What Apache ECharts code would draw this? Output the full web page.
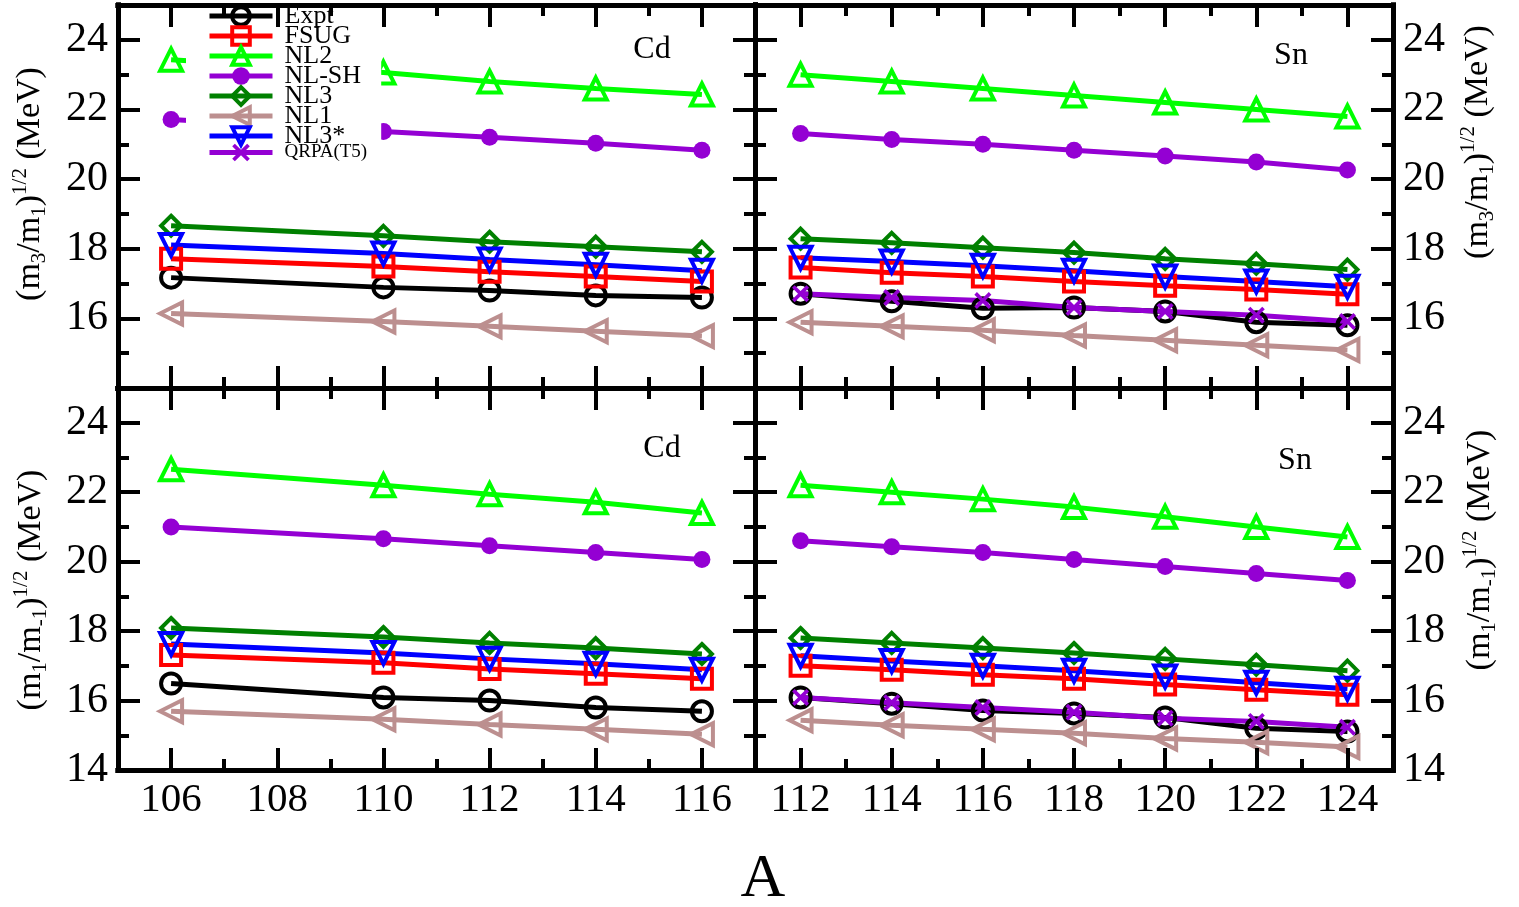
<!DOCTYPE html>
<html>
<head>
<meta charset="utf-8">
<script src="https://cdn.jsdelivr.net/npm/echarts@6.0.0/dist/echarts.min.js"></script>
<style>
  html, body { margin: 0; background: #fff; }
  #chart { width: 1519px; height: 907px; }
</style>
</head>
<body>
<div id="chart"></div>
<script>
// mass numbers
const cdA = [106, 110, 112, 114, 116]
const snA = [112, 114, 116, 118, 120, 122, 124]

// tick values
const cdTicks = [106, 108, 110, 112, 114, 116]
const cdMinor = [107, 109, 111, 113, 115]
const snTicks = [112, 114, 116, 118, 120, 122, 124]
const snMinor = [113, 115, 117, 119, 121, 123]
const yTicks = [16, 18, 20, 22, 24]
const yMinor = [15, 17, 19, 21, 23]
const yLabelsTop = [16, 18, 20, 22, 24]
const yLabelsBottom = [14, 16, 18, 20, 22, 24]

const models = ['Expt', 'FSUG', 'NL2', 'NL-SH', 'NL3', 'NL1', 'NL3*', 'QRPA(T5)']

// Cd, (m3/m1)^1/2
const cd31Expt = [17.17, 16.89, 16.80, 16.66, 16.60]
const cd31Fsug = [17.71, 17.49, 17.34, 17.20, 17.06]
const cd31Nl2 = [23.43, 23.06, 22.80, 22.60, 22.43]
const cd31Nlsh = [21.71, 21.37, 21.20, 21.03, 20.83]
const cd31Nl3 = [18.66, 18.37, 18.20, 18.06, 17.91]
const cd31Nl1 = [16.14, 15.91, 15.77, 15.63, 15.49]
const cd31Nl3s = [18.11, 17.86, 17.69, 17.54, 17.37]

// Sn, (m3/m1)^1/2
const sn31Expt = [16.71, 16.49, 16.29, 16.31, 16.20, 15.89, 15.80]
const sn31Fsug = [17.46, 17.31, 17.20, 17.06, 16.94, 16.83, 16.69]
const sn31Nl2 = [23.00, 22.80, 22.60, 22.40, 22.20, 22.00, 21.80]
const sn31Nlsh = [21.31, 21.14, 21.00, 20.83, 20.66, 20.49, 20.26]
const sn31Nl3 = [18.29, 18.17, 18.03, 17.89, 17.71, 17.57, 17.40]
const sn31Nl1 = [15.89, 15.77, 15.66, 15.51, 15.37, 15.23, 15.09]
const sn31Nl3s = [17.74, 17.63, 17.51, 17.37, 17.20, 17.06, 16.91]
const sn31Qrpa = [16.71, 16.60, 16.51, 16.31, 16.20, 16.09, 15.91]

// Cd, (m1/m-1)^1/2
const cd11Expt = [16.49, 16.09, 16.00, 15.80, 15.69]
const cd11Fsug = [17.31, 17.09, 16.91, 16.77, 16.63]
const cd11Nl2 = [22.66, 22.20, 21.94, 21.71, 21.40]
const cd11Nlsh = [21.00, 20.66, 20.46, 20.26, 20.06]
const cd11Nl3 = [18.09, 17.83, 17.66, 17.51, 17.34]
const cd11Nl1 = [15.69, 15.46, 15.31, 15.17, 15.03]
const cd11Nl3s = [17.63, 17.37, 17.20, 17.06, 16.89]

// Sn, (m1/m-1)^1/2
const sn11Expt = [16.09, 15.91, 15.71, 15.63, 15.51, 15.20, 15.11]
const sn11Fsug = [17.00, 16.89, 16.74, 16.63, 16.46, 16.31, 16.17]
const sn11Nl2 = [22.20, 22.00, 21.80, 21.57, 21.29, 21.00, 20.71]
const sn11Nlsh = [20.60, 20.43, 20.26, 20.06, 19.86, 19.66, 19.46]
const sn11Nl3 = [17.80, 17.66, 17.51, 17.37, 17.20, 17.03, 16.86]
const sn11Nl1 = [15.43, 15.29, 15.17, 15.06, 14.91, 14.80, 14.66]
const sn11Nl3s = [17.29, 17.14, 17.00, 16.86, 16.69, 16.51, 16.34]
const sn11Qrpa = [16.09, 15.94, 15.80, 15.66, 15.49, 15.40, 15.23]

const serif = 'Liberation Serif'
const crossPath = 'path://M0,3 L3,0 L10,7 L17,0 L20,3 L13,10 L20,17 L17,20 L10,13 L3,20 L0,17 L7,10 Z'

const look = {
  'Expt': { color: '#000000', symbol: 'circle', hollow: true, size: 20 },
  'FSUG': { color: '#ff0000', symbol: 'rect', hollow: true, size: 20 },
  'NL2': { color: '#00ff00', symbol: 'triangle', hollow: true, size: 22 },
  'NL-SH': { color: '#9400d3', symbol: 'circle', hollow: false, size: 17 },
  'NL3': { color: '#008000', symbol: 'diamond', hollow: true, size: 20 },
  'NL1': { color: '#bc8f8f', symbol: 'triangle', hollow: true, size: 22, rotate: 90 },
  'NL3*': { color: '#0000ff', symbol: 'triangle', hollow: true, size: 22, rotate: 180 },
  'QRPA(T5)': { color: '#9400d3', symbol: crossPath, hollow: false, size: 17 }
}

const panels = [
  { a: cdA, x: [105, 117], maj: cdTicks, min: cdMinor, xLab: false, yLab: yLabelsTop, ySide: 'left',
    rows: [cd31Expt, cd31Fsug, cd31Nl2, cd31Nlsh, cd31Nl3, cd31Nl1, cd31Nl3s, null] },
  { a: snA, x: [111, 125], maj: snTicks, min: snMinor, xLab: false, yLab: yLabelsTop, ySide: 'right',
    rows: [sn31Expt, sn31Fsug, sn31Nl2, sn31Nlsh, sn31Nl3, sn31Nl1, sn31Nl3s, sn31Qrpa] },
  { a: cdA, x: [105, 117], maj: cdTicks, min: cdMinor, xLab: true, yLab: yLabelsBottom, ySide: 'left',
    rows: [cd11Expt, cd11Fsug, cd11Nl2, cd11Nlsh, cd11Nl3, cd11Nl1, cd11Nl3s, null] },
  { a: snA, x: [111, 125], maj: snTicks, min: snMinor, xLab: true, yLab: yLabelsBottom, ySide: 'right',
    rows: [sn11Expt, sn11Fsug, sn11Nl2, sn11Nlsh, sn11Nl3, sn11Nl1, sn11Nl3s, sn11Qrpa] }
]

const grids = [
  { left: 118, top: 5, width: 637, height: 383 },
  { left: 755, top: 5, width: 638, height: 383 },
  { left: 118, top: 388, width: 637, height: 382 },
  { left: 755, top: 388, width: 638, height: 382 }
]

function axis(gi, pos, range, ticks, len, labels, fs) {
  return {
    type: 'value', gridIndex: gi, position: pos, min: range[0], max: range[1], z: 10,
    axisLine: { show: true, onZero: false, lineStyle: { color: '#000', width: 5, cap: 'square' } },
    splitLine: { show: false },
    axisTick: { show: true, inside: true, length: len, customValues: ticks, lineStyle: { color: '#000', width: 4 } },
    axisLabel: labels
      ? { show: true, customValues: labels, color: '#000', fontFamily: serif, fontSize: fs, margin: 10 }
      : { show: false }
  }
}

const xAxes = []
const yAxes = []
panels.forEach((p, gi) => {
  xAxes.push(axis(gi, 'bottom', p.x, p.maj, 22, p.xLab ? p.maj : null, 41))
  xAxes.push(axis(gi, 'bottom', p.x, p.min, 11, null))
  xAxes.push(axis(gi, 'top', p.x, p.maj, 22, null))
  xAxes.push(axis(gi, 'top', p.x, p.min, 11, null))
  yAxes.push(axis(gi, 'left', [14, 25], yTicks, 22, p.ySide === 'left' ? p.yLab : null, 42))
  yAxes.push(axis(gi, 'left', [14, 25], yMinor, 11, null))
  yAxes.push(axis(gi, 'right', [14, 25], yTicks, 22, p.ySide === 'right' ? p.yLab : null, 42))
  yAxes.push(axis(gi, 'right', [14, 25], yMinor, 11, null))
})

const series = []
panels.forEach((p, gi) => {
  p.rows.forEach((vals, k) => {
    if (!vals) return
    const m = models[k]
    const s = look[m]
    series.push({
      type: 'line',
      name: m,
      xAxisIndex: gi * 4,
      yAxisIndex: gi * 4,
      data: p.a.map((x, i) => [x, vals[i]]),
      symbol: s.symbol,
      symbolSize: s.size,
      symbolRotate: s.rotate || 0,
      showAllSymbol: true,
      lineStyle: { color: s.color, width: 5 },
      itemStyle: s.hollow
        ? { color: 'rgba(0,0,0,0)', borderColor: s.color, borderWidth: 4 }
        : { color: s.color, borderWidth: 0 },
      emphasis: { disabled: true },
      z: 2
    })
  })
})

// y axis titles
const rich34 = {
  n: { fontFamily: serif, fontSize: 34, color: '#000', lineHeight: 40 },
  sub: { fontFamily: serif, fontSize: 21, color: '#000', verticalAlign: 'bottom', lineHeight: 40 },
  sup: { fontFamily: serif, fontSize: 21, color: '#000', verticalAlign: 'top', lineHeight: 40 }
}
const name31 = '{n|(m}{sub|3}{n|/m}{sub|1}{n|)}{sup|1/2}{n| (MeV)}'
const name11 = '{n|(m}{sub|1}{n|/m}{sub|-1}{n|)}{sup|1/2}{n| (MeV)}'

function yName(x, y, text) {
  return {
    type: 'text', x: x, y: y, rotation: Math.PI / 2, z: 20,
    style: { text: text, rich: rich34, align: 'center', verticalAlign: 'middle' }
  }
}
function plain(x, y, text, size) {
  return {
    type: 'text', x: x, y: y, z: 20,
    style: { text: text, fontFamily: serif, fontSize: size, fill: '#000', align: 'center', verticalAlign: 'middle' }
  }
}

const chart = echarts.init(document.getElementById('chart'))
chart.setOption({
  animation: false,
  backgroundColor: '#fff',
  grid: grids,
  xAxis: xAxes,
  yAxis: yAxes,
  series: series,
  legend: {
    show: true,
    orient: 'vertical',
    left: 186,
    top: 3,
    z: 5,
    padding: [0, 14, 4, 21],
    backgroundColor: '#fff',
    itemWidth: 63,
    itemHeight: 22,
    itemGap: -6,
    selectedMode: false,
    lineStyle: { width: 5 },
    itemStyle: { borderWidth: 4 },
    textStyle: { fontFamily: serif, fontSize: 26, color: '#000', padding: [0, 0, 0, 7] },
    data: models.map(m => m === 'QRPA(T5)' ? { name: m, textStyle: { fontSize: 19 } } : m)
  },
  graphic: [
    yName(30, 184, name31),
    yName(1478, 142, name31),
    yName(31, 590, name11),
    yName(1480, 550, name11),
    plain(652, 50, 'Cd', 32),
    plain(1291, 56, 'Sn', 32),
    plain(662, 449, 'Cd', 32),
    plain(1295, 461, 'Sn', 32),
    plain(763, 880, 'A', 62)
  ]
})
</script>
</body>
</html>
